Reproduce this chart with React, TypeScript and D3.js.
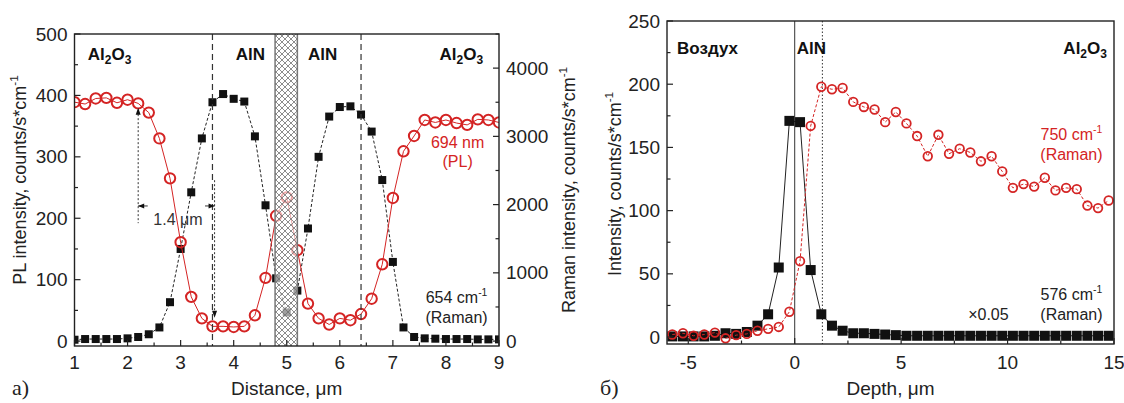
import React from "react";
import * as d3 from "d3";

// panel a) distance scan
const distance = [1.0, 1.2, 1.4, 1.6, 1.8, 2.0, 2.2, 2.4, 2.6, 2.8, 3.0, 3.2, 3.4, 3.6, 3.8, 4.0, 4.2, 4.4, 4.6, 4.8,
  5.0, 5.2, 5.4, 5.6, 5.8, 6.0, 6.2, 6.4, 6.6, 6.8, 7.0, 7.2, 7.4, 7.6, 7.8, 8.0, 8.2, 8.4, 8.6, 8.8, 9.0];
const plIntensity = [389, 386, 395, 396, 388, 393, 387, 372, 330, 265, 161, 72, 37, 24, 24, 23, 24, 42, 103, 204,
  234, 148, 61, 37, 27, 37, 34, 44, 69, 125, 233, 309, 334, 360, 356, 360, 355, 352, 361, 360, 356];
const raman654 = [20, 30, 30, 30, 30, 40, 60, 100, 200, 570, 1350, 2180, 2970, 3500, 3620, 3550, 3510, 3000, 1990, 920,
  420, 740, 1650, 2700, 3290, 3430, 3440, 3320, 3070, 2360, 1160, 200, 60, 40, 35, 30, 30, 30, 25, 25, 25];

// panel б) depth scan
const depth = [-5.75, -5.25, -4.75, -4.25, -3.75, -3.25, -2.75, -2.25, -1.75, -1.25, -0.75, -0.25,
  0.25, 0.75, 1.25, 1.75, 2.25, 2.75, 3.25, 3.75, 4.25, 4.75, 5.25, 5.75, 6.25, 6.75, 7.25, 7.75,
  8.25, 8.75, 9.25, 9.75, 10.25, 10.75, 11.25, 11.75, 12.25, 12.75, 13.25, 13.75, 14.25, 14.75];
const raman750 = [2, 3, 1, 2, 3.5, -1, 1.5, 2.5, 5, 6.5, 8, 20,
  60, 167, 198, 196, 197, 186, 182, 180, 170, 178, 169, 159, 143, 160, 145, 149,
  146, 139, 143, 131, 118, 121, 119, 126, 116, 118, 117, 104, 102, 108];
const raman576 = [0.5, 0.5, 0.5, 0.5, 1, 3, 2.5, 4, 9, 18, 55, 171,
  170, 53, 18, 9, 5, 3, 3, 2.5, 2, 1.5, 1, 1, 1, 1, 1, 1,
  1, 1, 1, 1, 1, 1, 1, 1, 1, 1, 1, 1, 1, 1];

// ticks
const xTicksA = [1, 2, 3, 4, 5, 6, 7, 8, 9];
const yTicksA = [0, 100, 200, 300, 400, 500];
const yTicksA2 = [0, 1000, 2000, 3000, 4000];
const xTicksB = [-5, 0, 5, 10, 15];
const yTicksB = [0, 50, 100, 150, 200, 250];

const FONT = "'Liberation Sans', Arial, Helvetica, sans-serif";
const RED = "#d42424";
const INK = "#222";

export default function App() {
  const xA = d3.scaleLinear().domain([1, 9]).range([74.5, 499]);
  const yA = d3.scaleLinear().domain([-8, 500]).range([346, 34]);
  const yA2 = d3.scaleLinear().domain([-72, 4500]).range([346, 34]);
  const xB = d3.scaleLinear().domain([-6, 15]).range([667, 1114]);
  const yB = d3.scaleLinear().domain([-5.5, 250]).range([344, 21]);

  const plLine = d3.line<number>().x((_, i) => xA(distance[i])).y(d => yA(d));
  const ramanLineA = d3.line<number>().x((_, i) => xA(distance[i])).y(d => yA2(d));
  const r750Line = d3.line<number>().x((_, i) => xB(depth[i])).y(d => yB(d));
  const r576Line = d3.line<number>().x((_, i) => xB(depth[i])).y(d => yB(d));

  const minor = (ticks: number[]) => ticks.slice(1).map((t, i) => (t + ticks[i]) / 2);

  const tickStyle = { stroke: INK, strokeWidth: 1.2 };
  const lab = { fontFamily: FONT, fontSize: 19, fill: INK };

  const [a0, a1] = xA.range();
  const [bA, tA] = yA.range();
  const [b0, b1] = xB.range();
  const [bB, tB] = yB.range();

  const cm = (fs: number) => (
    <>cm<tspan dy={-fs * 0.45} fontSize={fs * 0.65}>-1</tspan></>
  );
  const al2o3 = (
    <>Al<tspan dy={4} fontSize={12}>2</tspan><tspan dy={-4}>O</tspan><tspan dy={4} fontSize={12}>3</tspan></>
  );

  return (
    <svg width={1124} height={403} style={{ position: "absolute", left: 0, top: 0, background: "#fff" }}>
      <defs>
        <clipPath id="clipA"><rect x={a0} y={tA} width={a1 - a0} height={bA - tA} /></clipPath>
        <clipPath id="clipB"><rect x={b0} y={tB} width={b1 - b0} height={bB - tB} /></clipPath>
        <pattern id="hatch" width={6} height={6} patternUnits="userSpaceOnUse">
          <path d="M-1,-1 L7,7 M7,-1 L-1,7" stroke="#6e6e6e" strokeWidth={0.8} />
        </pattern>
      </defs>

      {/* ---------- panel a ---------- */}
      <g clipPath="url(#clipA)">
        <path d={ramanLineA(raman654) ?? ""} fill="none" stroke={INK} strokeWidth={1} strokeDasharray="3,2" />
        {raman654.map((v, i) => (
          <rect key={i} x={xA(distance[i]) - 4} y={yA2(v) - 4} width={8} height={8} fill="#111" />
        ))}
        <path d={plLine(plIntensity) ?? ""} fill="none" stroke={RED} strokeWidth={1} />
        {plIntensity.map((v, i) => (
          <circle key={i} cx={xA(distance[i])} cy={yA(v)} r={5.2} fill="none" stroke={RED} strokeWidth={2} />
        ))}
      </g>

      {/* hatched AlN/AlN interface */}
      <rect x={xA(4.78)} y={tA} width={xA(5.2) - xA(4.78)} height={bA - tA} fill="#fff" fillOpacity={0.6} />
      <rect x={xA(4.78)} y={tA} width={xA(5.2) - xA(4.78)} height={bA - tA} fill="url(#hatch)" />
      <line x1={xA(4.78)} x2={xA(4.78)} y1={tA} y2={bA} stroke="#777" strokeWidth={1.5} />
      <line x1={xA(5.2)} x2={xA(5.2)} y1={tA} y2={bA} stroke="#777" strokeWidth={1.5} />

      {/* interface lines */}
      {[3.6, 6.4].map(v => (
        <line key={v} x1={xA(v)} x2={xA(v)} y1={tA} y2={bA} stroke="#333" strokeWidth={1.2} strokeDasharray="6,4" />
      ))}

      {/* 1.4 um width marker */}
      <line x1={xA(2.2)} x2={xA(2.2)} y1={yA(376)} y2={yA(192)} stroke="#333" strokeWidth={1} strokeDasharray="2,2" />
      <path d={`M${xA(2.2)},${yA(380)} l-2.5,7 l5,0 Z`} fill="#111" />
      <line x1={xA(3.64)} x2={xA(3.64)} y1={yA(262)} y2={yA(42)} stroke="#333" strokeWidth={1} strokeDasharray="2,2" />
      <path d={`M${xA(3.64)},${yA(38)} l-2.5,-7 l5,0 Z`} fill="#111" />
      <line x1={xA(2.2)} x2={xA(2.38)} y1={yA(220)} y2={yA(220)} stroke="#333" strokeWidth={1} />
      <path d={`M${xA(2.2)},${yA(220)} l6,-2.5 l0,5 Z`} fill="#111" />
      <line x1={xA(3.46)} x2={xA(3.64)} y1={yA(220)} y2={yA(220)} stroke="#333" strokeWidth={1} />
      <path d={`M${xA(3.64)},${yA(220)} l-6,-2.5 l0,5 Z`} fill="#111" />
      <text x={xA(2.95)} y={yA(189)} textAnchor="middle" fontFamily={FONT} fontSize={16} fill="#333">1.4 μm</text>

      {/* frame a */}
      <rect x={a0} y={tA} width={a1 - a0} height={bA - tA} fill="none" stroke={INK} strokeWidth={1.4} />
      {xTicksA.map(t => <line key={t} x1={xA(t)} x2={xA(t)} y1={bA} y2={bA - 6} {...tickStyle} />)}
      {minor(xTicksA).map(t => <line key={t} x1={xA(t)} x2={xA(t)} y1={bA} y2={bA - 3.5} {...tickStyle} />)}
      {yTicksA.map(t => <line key={t} x1={a0} x2={a0 + 6} y1={yA(t)} y2={yA(t)} {...tickStyle} />)}
      {minor(yTicksA).map(t => <line key={t} x1={a0} x2={a0 + 3.5} y1={yA(t)} y2={yA(t)} {...tickStyle} />)}
      {yTicksA2.map(t => <line key={t} x1={a1} x2={a1 - 6} y1={yA2(t)} y2={yA2(t)} {...tickStyle} />)}
      {[...minor(yTicksA2), 4500].map(t => <line key={t} x1={a1} x2={a1 - 3.5} y1={yA2(t)} y2={yA2(t)} {...tickStyle} />)}

      {xTicksA.map(t => <text key={t} x={xA(t)} y={bA + 23} textAnchor="middle" {...lab}>{t}</text>)}
      {yTicksA.map(t => <text key={t} x={a0 - 7} y={yA(t)} dy="0.35em" textAnchor="end" {...lab}>{t}</text>)}
      {yTicksA2.map(t => <text key={t} x={a1 + 7} y={yA2(t)} dy="0.35em" textAnchor="start" {...lab}>{t}</text>)}

      <text x={xA(5)} y={395} textAnchor="middle" fontFamily={FONT} fontSize={19} fill={INK}>Distance, μm</text>
      <text transform={`translate(26,180) rotate(-90)`} textAnchor="middle" fontFamily={FONT} fontSize={18} fill={INK}>
        PL intensity, counts/s*{cm(18)}
      </text>
      <text transform={`translate(575,190) rotate(-90)`} textAnchor="middle" fontFamily={FONT} fontSize={18} fill={INK}>
        Raman intensity, counts/s*{cm(18)}
      </text>
      <text x={12} y={395} fontFamily="'Liberation Serif', 'Times New Roman', serif" fontSize={22} fill={INK}>a)</text>

      {/* region labels a */}
      <g fontFamily={FONT} fontSize={17} fontWeight="bold" fill="#111">
        <text x={xA(1.25)} y={yA(458)}>{al2o3}</text>
        <text x={xA(4.59)} y={yA(458)} textAnchor="end">AlN</text>
        <text x={xA(5.4)} y={yA(458)}>AlN</text>
        <text x={xA(8.7)} y={yA(458)} textAnchor="end">{al2o3}</text>
      </g>
      <g fontFamily={FONT} fontSize={16} textAnchor="middle">
        <text x={xA(8.22)} y={yA(314)} fill={RED}>694 nm</text>
        <text x={xA(8.22)} y={yA(283)} fill={RED}>(PL)</text>
        <text x={xA(8.2)} y={yA(62)} fill={INK}>654 {cm(16)}</text>
        <text x={xA(8.2)} y={yA(29)} fill={INK}>(Raman)</text>
      </g>

      {/* ---------- panel б ---------- */}
      <line x1={xB(0)} x2={xB(0)} y1={tB} y2={bB} stroke="#333" strokeWidth={1} />
      <line x1={xB(1.3)} x2={xB(1.3)} y1={tB} y2={bB} stroke="#333" strokeWidth={1} strokeDasharray="1.5,2" />
      <g clipPath="url(#clipB)">
        <path d={r576Line(raman576) ?? ""} fill="none" stroke={INK} strokeWidth={1} />
        {raman576.map((v, i) => (
          <rect key={i} x={xB(depth[i]) - 5} y={yB(v) - 5} width={10} height={10} fill="#111" />
        ))}
        <path d={r750Line(raman750) ?? ""} fill="none" stroke={RED} strokeWidth={1} strokeDasharray="3,2" />
        {raman750.map((v, i) => (
          <circle key={i} cx={xB(depth[i])} cy={yB(v)} r={4.3} fill="none" stroke={RED} strokeWidth={1.8} />
        ))}
      </g>

      <rect x={b0} y={tB} width={b1 - b0} height={bB - tB} fill="none" stroke={INK} strokeWidth={1.4} />
      {xTicksB.map(t => <line key={t} x1={xB(t)} x2={xB(t)} y1={bB} y2={bB - 6} {...tickStyle} />)}
      {minor(xTicksB).map(t => <line key={t} x1={xB(t)} x2={xB(t)} y1={bB} y2={bB - 3.5} {...tickStyle} />)}
      {yTicksB.map(t => <line key={t} x1={b0} x2={b0 + 6} y1={yB(t)} y2={yB(t)} {...tickStyle} />)}
      {minor(yTicksB).map(t => <line key={t} x1={b0} x2={b0 + 3.5} y1={yB(t)} y2={yB(t)} {...tickStyle} />)}

      {xTicksB.map(t => <text key={t} x={xB(t)} y={bB + 25} textAnchor="middle" {...lab}>{t}</text>)}
      {yTicksB.map(t => <text key={t} x={b0 - 7} y={yB(t)} dy="0.35em" textAnchor="end" {...lab}>{t}</text>)}

      <text x={xB(4.5)} y={395} textAnchor="middle" fontFamily={FONT} fontSize={19} fill={INK}>Depth, μm</text>
      <text transform={`translate(621,184) rotate(-90)`} textAnchor="middle" fontFamily={FONT} fontSize={18} fill={INK}>
        Intensity, counts/s*{cm(18)}
      </text>
      <text x={600} y={395} fontFamily="'Liberation Serif', 'Times New Roman', serif" fontSize={22} fill={INK}>б)</text>

      <g fontFamily={FONT} fontSize={17} fontWeight="bold" fill="#111">
        <text x={xB(-5.53)} y={yB(224)}>Воздух</text>
        <text x={xB(0.1)} y={yB(224)}>AlN</text>
        <text x={xB(14.67)} y={yB(224)} textAnchor="end">{al2o3}</text>
      </g>
      <g fontFamily={FONT} fontSize={16} textAnchor="middle">
        <text x={xB(13)} y={yB(156)} fill={RED}>750 {cm(16)}</text>
        <text x={xB(13)} y={yB(140)} fill={RED}>(Raman)</text>
        <text x={xB(13)} y={yB(29)} fill={INK}>576 {cm(16)}</text>
        <text x={xB(13)} y={yB(13.5)} fill={INK}>(Raman)</text>
        <text x={xB(9.1)} y={yB(13.5)} fill={INK}>×0.05</text>
      </g>
    </svg>
  );
}
